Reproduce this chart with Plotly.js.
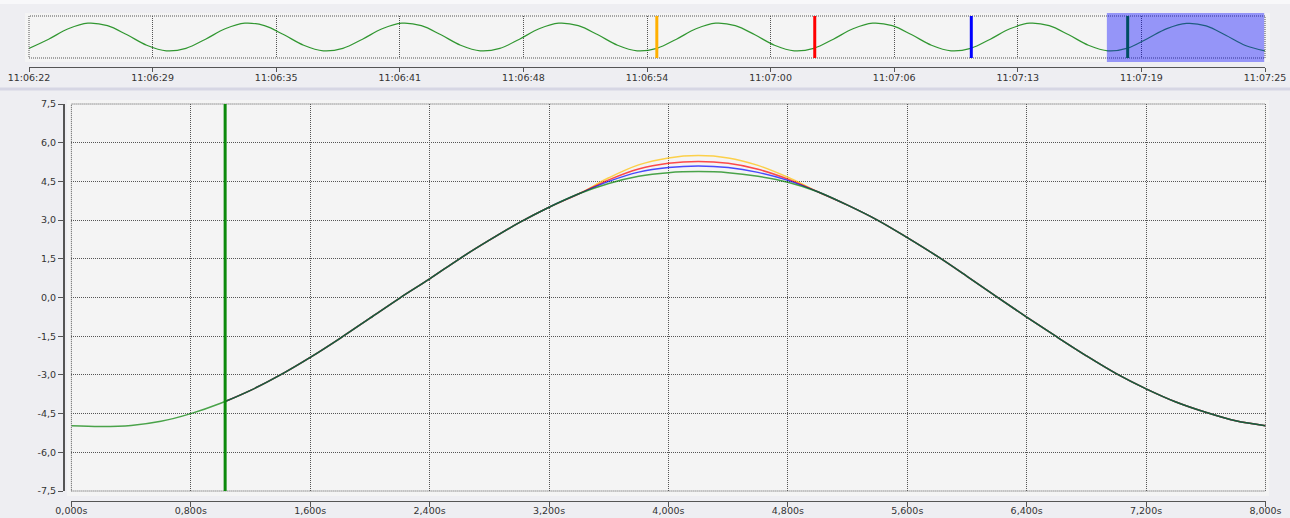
<!DOCTYPE html>
<html><head><meta charset="utf-8">
<script src="https://cdn.plot.ly/plotly-3.0.1.min.js"></script>
<style>html,body{margin:0;padding:0;background:#eeeef2;}#chart{width:1290px;height:518px;}</style>
</head><body><div id="chart"></div>
<script>
// ---------- overview (whole recording, seconds from 11:06:22) ----------
var overviewTime = [0,1,2,3,4,5,6,7,8,9,10,11,12,13,14,15,16,17,18,19,20,21,22,23,24,25,26,27,28,29,30,31,32,33,34,35,36,37,38,39,40,41,42,43,44,45,46,47,48,49,50,51,52,53,54,55,56,57,58,59,60,61,62,63];
var overviewValues = [-4.05,-0.78,2.94,4.94,4.05,0.78,-2.94,-4.94,
  -4.05,-0.78,2.94,4.94,4.05,0.78,-2.94,-4.94,
  -4.05,-0.78,2.94,4.94,4.05,0.78,-2.94,-4.94,
  -4.05,-0.78,2.94,4.94,4.05,0.78,-2.94,-4.94,
  -4.05,-0.78,2.94,4.94,4.05,0.78,-2.94,-4.94,
  -4.05,-0.78,2.94,4.94,4.05,0.78,-2.94,-4.94,
  -4.05,-0.78,2.94,4.94,4.05,0.78,-2.94,-4.94,
  -3.98,-0.60,3.00,4.86,3.98,0.60,-3.05,-4.97];
var overviewTickVals = [0,6.3,12.6,18.9,25.2,31.5,37.8,44.1,50.4,56.7,63];
var overviewTickText = ['11:06:22','11:06:29','11:06:35','11:06:41','11:06:48','11:06:54','11:07:00','11:07:06','11:07:13','11:07:19','11:07:25'];
var overviewCursorTimes = [32.0, 40.05, 48.03, 56.0];
var overviewCursorColors = ['#ffb000','#ff0000','#0000ff','#008000'];
var selectionStart = 54.94, selectionEnd = 62.96;

// ---------- main detail (seconds within selection) ----------
var mainTime = [0,0.2,0.4,0.6,0.8,1.0,1.2,1.4,1.6,1.8,2.0,2.2,2.4,2.6,2.8,3.0,3.2,3.4,3.6,3.8,4.0,4.2,4.4,4.6,4.8,5.0,5.2,5.4,5.6,5.8,6.0,6.2,6.4,6.6,6.8,7.0,7.2,7.4,7.6,7.8,8.0];
var greenValues = [-4.97,-5.00,-4.96,-4.80,-4.50,-4.10,-3.60,-3.00,-2.32,-1.58,-0.80,-0.02,0.72,1.50,2.22,2.90,3.50,4.02,4.42,4.70,4.84,4.88,4.84,4.70,4.47,4.10,3.58,3.00,2.32,1.60,0.82,0.02,-0.76,-1.52,-2.26,-2.95,-3.54,-4.05,-4.45,-4.78,-4.97];
var tailTime = [1.03,1.2,1.4,1.6,1.8,2.0,2.2,2.4,2.6,2.8,3.0,3.2,3.4,3.6,3.8,4.0,4.2,4.4,4.6,4.8,5.0,5.2,5.4,5.6,5.8,6.0,6.2,6.4,6.6,6.8,7.0,7.2,7.4,7.6,7.8,8.0];
var blueValues = [-4.03,-3.60,-3.00,-2.32,-1.58,-0.80,-0.02,0.72,1.50,2.22,2.90,3.50,4.02,4.50,4.86,5.04,5.10,5.04,4.85,4.54,4.10,3.58,3.00,2.32,1.60,0.82,0.02,-0.76,-1.52,-2.26,-2.95,-3.54,-4.05,-4.45,-4.78,-4.97];
var redValues = [-4.03,-3.60,-3.00,-2.32,-1.58,-0.80,-0.02,0.72,1.50,2.22,2.90,3.50,4.02,4.56,4.98,5.20,5.27,5.20,4.97,4.59,4.10,3.58,3.00,2.32,1.60,0.82,0.02,-0.76,-1.52,-2.26,-2.95,-3.54,-4.05,-4.45,-4.78,-4.97];
var yellowValues = [-4.03,-3.60,-3.00,-2.32,-1.58,-0.80,-0.02,0.72,1.50,2.22,2.90,3.50,4.02,4.64,5.14,5.41,5.50,5.41,5.12,4.66,4.10,3.58,3.00,2.32,1.60,0.82,0.02,-0.76,-1.52,-2.26,-2.95,-3.54,-4.05,-4.45,-4.78,-4.97];
var mainCursorTime = 1.03;
var yTickVals = [-7.5,-6,-4.5,-3,-1.5,0,1.5,3,4.5,6,7.5];
var yTickText = ['-7,5','-6,0','-4,5','-3,0','-1,5','0,0','1,5','3,0','4,5','6,0','7,5'];
var xTickVals = [0,0.8,1.6,2.4,3.2,4.0,4.8,5.6,6.4,7.2,8.0];
var xTickText = ['0,000s','0,800s','1,600s','2,400s','3,200s','4,000s','4,800s','5,600s','6,400s','7,200s','8,000s'];

// ---------- layout geometry (pixels of a 1290x518 page) ----------
var W = 1290, H = 518;
function px(x){ return x / W; }
function py(y){ return 1 - y / H; }

var font = {family: 'DejaVu Sans, Verdana, sans-serif', size: 9.5, color: '#333'};
var gridDash = '1px,1px';
var ovDom = {x0: 29, x1: 1265, yTop: 16, yBot: 58};
var mnDom = {x0: 71.4, x1: 1265.5, yTop: 104, yBot: 491};

var traces = [
  {x: overviewTime, y: overviewValues, xaxis: 'x2', yaxis: 'y2', mode: 'lines',
   line: {color: 'rgba(0,128,0,0.8)', width: 1.2, shape: 'spline', smoothing: 1}, hoverinfo: 'skip'},
  {x: tailTime, y: yellowValues, mode: 'lines', line: {color: 'rgba(255,192,0,0.7)', width: 1.5, shape: 'spline', smoothing: 1}},
  {x: tailTime, y: redValues, mode: 'lines', line: {color: 'rgba(255,0,0,0.7)', width: 1.5, shape: 'spline', smoothing: 1}},
  {x: tailTime, y: blueValues, mode: 'lines', line: {color: 'rgba(0,0,255,0.7)', width: 1.5, shape: 'spline', smoothing: 1}},
  {x: mainTime, y: greenValues, mode: 'lines', line: {color: 'rgba(0,128,0,0.7)', width: 1.5, shape: 'spline', smoothing: 1}}
];

var shapes = [
  {type: 'rect', xref: 'paper', yref: 'paper', x0: 0, x1: 1, y0: py(0), y1: py(4), fillcolor: '#f8f8fa', line: {width: 0}, layer: 'below'},
  {type: 'rect', xref: 'paper', yref: 'paper', x0: px(25), x1: px(1270), y0: py(13), y1: py(62), fillcolor: '#f4f4f4', line: {width: 0}, layer: 'below'},
  {type: 'rect', xref: 'paper', yref: 'paper', x0: 0, x1: 1, y0: py(87.5), y1: py(90.5), fillcolor: '#d6d6e4', line: {width: 0}, layer: 'below'},
  {type: 'rect', xref: 'paper', yref: 'paper', x0: px(67), x1: px(1269), y0: py(100), y1: py(496), fillcolor: '#f4f4f4', line: {width: 0}, layer: 'below'},
  {type: 'rect', xref: 'paper', yref: 'paper', x0: px(ovDom.x0), x1: px(ovDom.x1), y0: py(ovDom.yBot), y1: py(ovDom.yTop),
   fillcolor: 'rgba(0,0,0,0)', line: {color: '#555', width: 1, dash: gridDash}, layer: 'above'},
  {type: 'rect', xref: 'paper', yref: 'paper', x0: px(mnDom.x0), x1: px(mnDom.x1), y0: py(mnDom.yBot), y1: py(mnDom.yTop),
   fillcolor: 'rgba(0,0,0,0)', line: {color: '#555', width: 1, dash: gridDash}, layer: 'above'}
];
for (var i = 0; i < overviewCursorTimes.length; i++) {
  shapes.push({type: 'line', xref: 'x2', yref: 'y2', x0: overviewCursorTimes[i], x1: overviewCursorTimes[i], y0: -7.5, y1: 7.5,
    line: {color: overviewCursorColors[i], width: 3}, layer: 'above'});
}
shapes.push({type: 'rect', xref: 'x2', yref: 'paper', x0: selectionStart, x1: selectionEnd, y0: py(62), y1: py(13),
  fillcolor: 'rgba(0,0,255,0.39)', line: {width: 0}, layer: 'above'});
shapes.push({type: 'line', xref: 'x', yref: 'y', x0: mainCursorTime, x1: mainCursorTime, y0: -7.5, y1: 7.5,
  line: {color: '#0c8a0c', width: 3}, layer: 'above'});

var layout = {
  width: W, height: H,
  margin: {l: 0, r: 0, t: 0, b: 0},
  paper_bgcolor: '#eeeef2', plot_bgcolor: '#f4f4f4',
  showlegend: false, font: font, hovermode: false,
  xaxis2: {domain: [px(ovDom.x0), px(ovDom.x1)], range: [0, 63], anchor: 'free', position: py(66.5),
    tickmode: 'array', tickvals: overviewTickVals, ticktext: overviewTickText,
    showline: true, linecolor: '#555', linewidth: 1, ticks: 'outside', ticklen: 4, tickcolor: '#555',
    ticklabelstandoff: -2,
    showgrid: true, gridcolor: '#555', griddash: gridDash, gridwidth: 1, zeroline: false, tickfont: font},
  yaxis2: {domain: [py(ovDom.yBot), py(ovDom.yTop)], range: [-7.5, 7.5], anchor: 'x2',
    tickmode: 'array', tickvals: [-7.5, 7.5], showticklabels: false, ticks: '',
    showgrid: true, gridcolor: '#555', griddash: gridDash, zeroline: false, showline: false},
  xaxis: {domain: [px(mnDom.x0), px(mnDom.x1)], range: [0, 8], anchor: 'free', position: py(500.5),
    tickmode: 'array', tickvals: xTickVals, ticktext: xTickText,
    showline: true, linecolor: '#555', linewidth: 1.5, ticks: 'outside', ticklen: 5, tickcolor: '#555',
    ticklabelstandoff: -4,
    showgrid: true, gridcolor: '#555', griddash: gridDash, gridwidth: 1, zeroline: false, tickfont: font},
  yaxis: {domain: [py(mnDom.yBot), py(mnDom.yTop)], range: [-7.5, 7.5], anchor: 'free', position: px(63),
    tickmode: 'array', tickvals: yTickVals, ticktext: yTickText,
    showline: true, linecolor: '#555', linewidth: 1.5, ticks: 'outside', ticklen: 5, tickcolor: '#555',
    showgrid: true, gridcolor: '#555', griddash: gridDash, gridwidth: 1, zeroline: false, tickfont: font},
  shapes: shapes
};

Plotly.newPlot('chart', traces, layout, {displayModeBar: false, staticPlot: true});
</script></body></html>
